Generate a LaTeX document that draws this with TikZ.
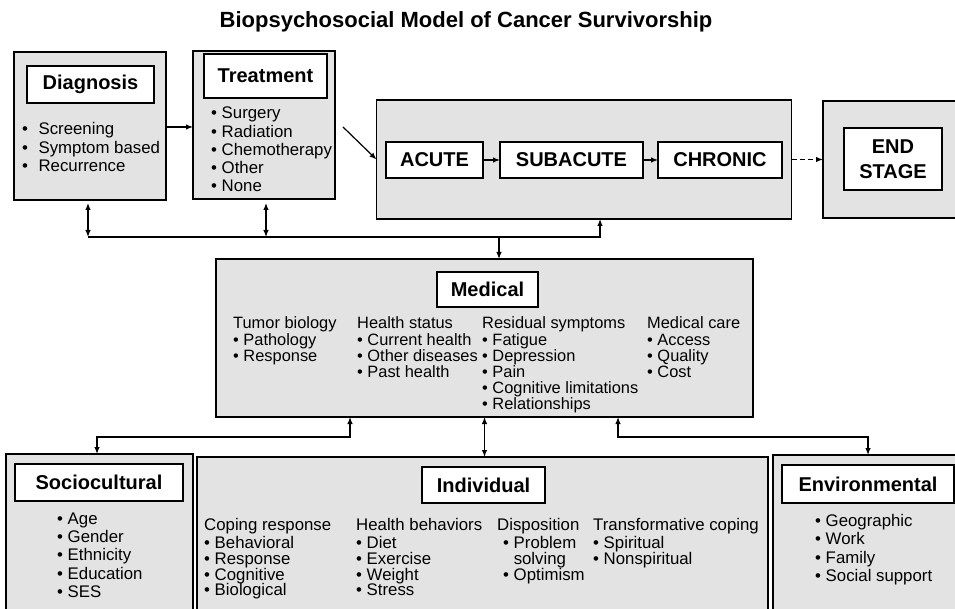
\documentclass[tikz,border=0pt]{standalone}
\usepackage{fontspec}
\setmainfont{Liberation Sans}
\usetikzlibrary{arrows.meta,calc}
\definecolor{panelgray}{RGB}{227,227,227}

% vertical stack of lines whose baseline is the first line's baseline
\newcommand\stacked[1]{\vtop{\halign{##\hfil\cr#1\crcr}}}
\newcommand\bul{\textbullet\ }
\newcommand\widebul{\textbullet\hspace{10.5pt}}

\tikzset{
  panel/.style={draw=black, fill=panelgray, line width=1.8pt, inner sep=0pt, outer sep=0pt},
  tag/.style={draw=black, fill=white, line width=2pt, inner sep=0pt, outer sep=0pt,
    font=\fontsize{20}{25}\selectfont\bfseries, align=center},
  body/.style={inner sep=0pt, anchor=base west, font=\fontsize{16.8}{#1}\selectfont},
  body/.default=18.3,
  medbody/.style={inner sep=0pt, anchor=base west, font=\fontsize{16.4}{16.1}\selectfont},
  tip/.tip={Latex[length=7pt,width=5.5pt]},
  link/.style={line width=1.2pt, -tip},
  duallink/.style={line width=1.2pt, tip-tip},
  bus/.style={line width=1.8pt},
}

\begin{document}
\begin{tikzpicture}[x=1pt, y=-1pt]
\useasboundingbox (0,0) rectangle (955,609);
\fill[white] (0,0) rectangle (955,609);
\clip (0,0) rectangle (955,609);

% title
\node[font=\fontsize{22}{26}\selectfont\bfseries, inner sep=0pt, anchor=base] (title) at (466,28)
  {Biopsychosocial Model of Cancer Survivorship};

% diagnosis
\node[panel, minimum width=152, minimum height=148] (diag) at (90,126) {};
\node[tag, minimum width=127, minimum height=37] (diaglab) at (90.5,84.5) {Diagnosis};
\node[body=18.2] (diagitems) at (22,135)
  {\stacked{\widebul Screening\cr \widebul Symptom based\cr \widebul Recurrence}};

% treatment
\node[panel, minimum width=142, minimum height=148] (treat) at (264,125) {};
\node[tag, minimum width=123, minimum height=44] (treatlab) at (265.5,76) {Treatment};
\node[body=18.2] (treatitems) at (211,119)
  {\stacked{\bul Surgery\cr \bul Radiation\cr \bul Chemotherapy\cr \bul Other\cr \bul None}};

% survivorship stages
\node[panel, minimum width=415, minimum height=119] (stage) at (584,159.5) {};
\node[tag, minimum width=97, minimum height=36] (acute) at (434.5,160) {ACUTE};
\node[tag, minimum width=143, minimum height=36] (subacute) at (571.5,160) {SUBACUTE};
\node[tag, minimum width=124, minimum height=36] (chronic) at (720,160) {CHRONIC};
\node[panel, minimum width=137, minimum height=117] (endbox) at (891.5,159.5) {};
\node[tag, minimum width=98, minimum height=62] (endlab) at (893,159) {END\\STAGE};

\draw[link] ($(diag.east)+(0,1)$) -- ($(treat.west)+(0,2)$);
\draw[link] ($(treat.east)+(8,2)$) -- (stage.west);
\draw[link] (acute) -- (subacute);
\draw[link] (subacute) -- (chronic);
\draw[link, dash pattern=on 5pt off 3pt] (stage.east) -- (endbox.west);

% medical
\node[panel, minimum width=537, minimum height=158] (medical) at (484.5,338) {};
\node[tag, minimum width=101, minimum height=35] (medlab) at (487.5,289.5) {Medical};
\node[medbody] (tumor) at (233,328)
  {\stacked{Tumor biology\cr\noalign{\vskip1pt} \bul Pathology\cr \bul Response}};
\node[medbody] (health) at (357,328)
  {\stacked{Health status\cr\noalign{\vskip1pt} \bul Current health\cr \bul Other diseases\cr \bul Past health}};
\node[medbody] (residual) at (482,328)
  {\stacked{Residual symptoms\cr\noalign{\vskip1pt} \bul Fatigue\cr \bul Depression\cr \bul Pain\cr
    \bul Cognitive limitations\cr \bul Relationships}};
\node[medbody] (care) at (647,328)
  {\stacked{Medical care\cr\noalign{\vskip1pt} \bul Access\cr \bul Quality\cr \bul Cost}};

% links between the top row and the medical box
\coordinate (b1) at (88,237);
\coordinate (b2) at (266,237);
\coordinate (b3) at (499,237);
\coordinate (b4) at (600,237);
\draw[duallink] ($(diag.south)+(-2,3)$) -- (b1);
\draw[duallink] ($(treat.south)+(2,4)$) -- (b2);
\draw[bus] (b1) -- (b3);
\draw[link] (b3) -- (b3 |- medical.north);
\draw[link] (b3) -- (b4) -- (b4 |- stage.south);

% sociocultural
\node[panel, minimum width=187, minimum height=160] (socio) at (99.5,534) {};
\node[tag, minimum width=168, minimum height=37] (sociolab) at (99,482.5) {Sociocultural};
\node[body=18.4] (socioitems) at (57,524)
  {\stacked{\bul Age\cr \bul Gender\cr \bul Ethnicity\cr \bul Education\cr \bul SES}};

% individual
\node[panel, minimum width=571, minimum height=157] (indiv) at (482.5,535.5) {};
\node[tag, minimum width=123, minimum height=36] (indivlab) at (483.5,485) {Individual};
\node[body=15.8] (coping) at (204,530)
  {\stacked{Coping response\cr\noalign{\vskip2.7pt} \bul Behavioral\cr \bul Response\cr \bul Cognitive\cr \bul Biological}};
\node[body=15.8] (behav) at (356,530)
  {\stacked{Health behaviors\cr\noalign{\vskip2.7pt} \bul Diet\cr \bul Exercise\cr \bul Weight\cr \bul Stress}};
\node[body=15.8] (dispo) at (497,530)
  {\stacked{Disposition\cr\noalign{\vskip2.7pt} \hskip6pt\bul Problem\cr \hskip6pt\phantom{\bul}solving\cr \hskip6pt\bul Optimism}};
\node[body=15.8] (transf) at (593,530)
  {\stacked{Transformative coping\cr\noalign{\vskip2.7pt} \bul Spiritual\cr \bul Nonspiritual}};

% environmental
\node[panel, minimum width=190, minimum height=159] (env) at (868,534.5) {};
\node[tag, minimum width=172, minimum height=38] (envlab) at (868,484) {Environmental};
\node[body=18.5] (envitems) at (815,526)
  {\stacked{\bul Geographic\cr \bul Work\cr \bul Family\cr \bul Social support}};

% links between the medical box and the bottom row
\coordinate (c1) at (350,437);
\coordinate (c2) at (97,437);
\coordinate (c3) at (618,437);
\coordinate (c4) at (868,437);
\draw[duallink] (medical.south -| c1) -- (c1) -- (c2) -- (c2 |- socio.north);
\draw[duallink] (medical.south) -- (medical.south |- indiv.north);
\draw[duallink] (medical.south -| c3) -- (c3) -- (c4) -- (c4 |- env.north);
\end{tikzpicture}
\end{document}
